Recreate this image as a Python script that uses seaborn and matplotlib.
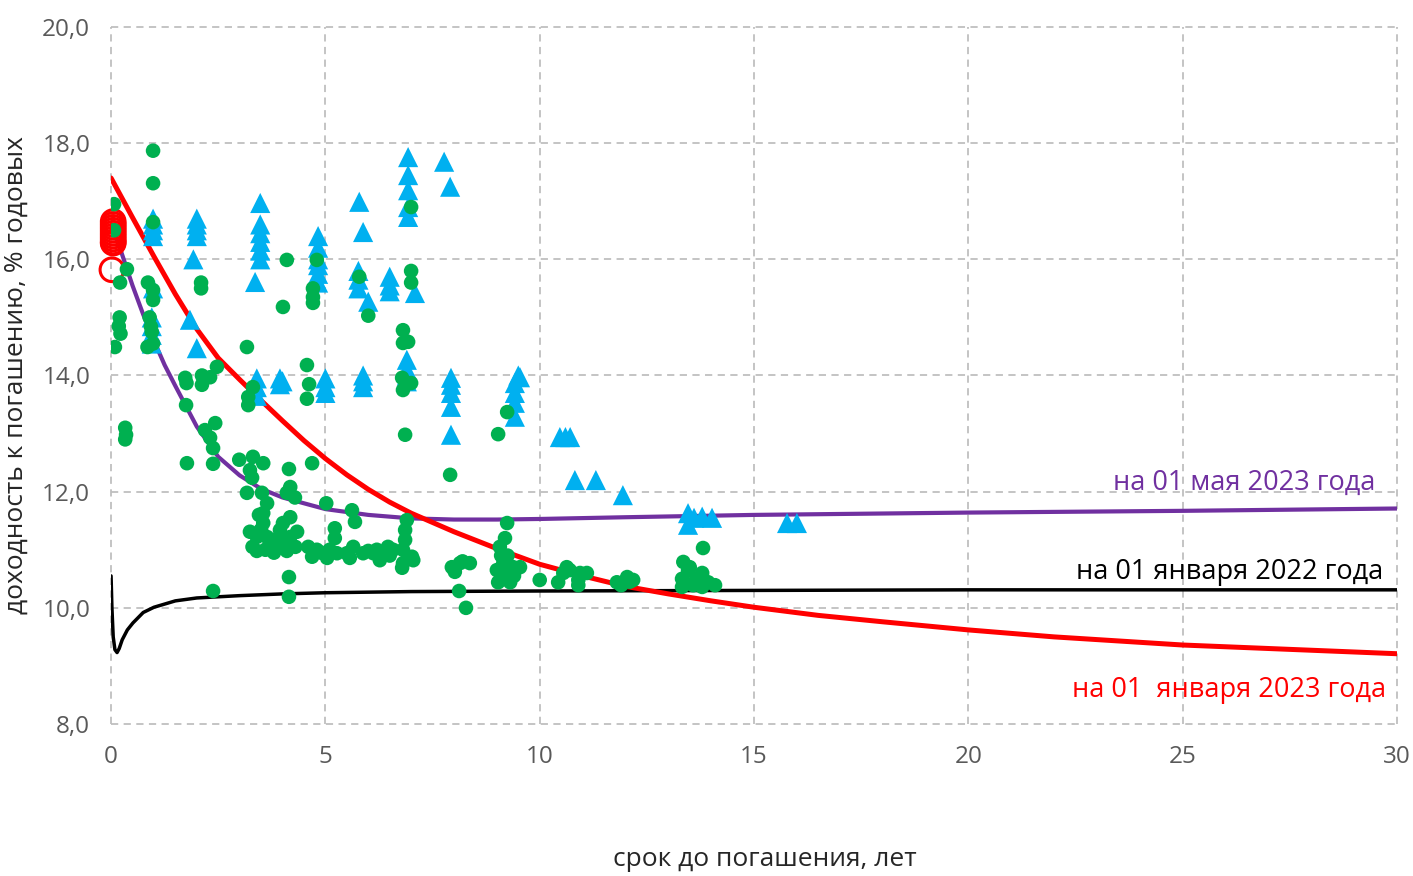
import numpy as np
import pandas as pd
import seaborn as sns
import matplotlib.pyplot as plt

sns.set_style("white")
plt.rcParams['font.family'] = ['Open Sans', 'DejaVu Sans']

# G-curves (maturity, yield)
red_x = [0, 0.5, 1, 1.5, 2, 2.5, 3, 3.5, 4, 4.5, 5, 5.5, 6, 6.5, 7, 8, 9, 10, 11, 12, 13, 14, 15, 16.5, 18, 20, 22, 25, 28, 30]
red_y = [17.40, 16.72, 16.05, 15.40, 14.80, 14.30, 13.93, 13.57, 13.22, 12.88, 12.57, 12.29, 12.04, 11.82, 11.63,
         11.31, 11.02, 10.75, 10.55, 10.37, 10.24, 10.12, 10.01, 9.87, 9.76, 9.62, 9.50, 9.36, 9.27, 9.21]

purple_x = [0, 0.25, 0.5, 0.75, 1, 1.25, 1.5, 2, 2.5, 3, 3.5, 4, 5, 6, 7, 8, 9, 10, 12, 15, 20, 25, 30]
purple_y = [16.6, 16.1, 15.55, 15.05, 14.6, 14.18, 13.82, 13.12, 12.6, 12.28, 12.05, 11.9, 11.7, 11.6, 11.54,
            11.52, 11.52, 11.53, 11.56, 11.6, 11.64, 11.67, 11.71]

black_x = [0, 0.02, 0.05, 0.09, 0.14, 0.19, 0.26, 0.38, 0.51, 0.75, 1, 1.5, 2, 3, 4, 5, 7, 10, 15, 20, 25, 30]
black_y = [10.55, 10.0, 9.5, 9.28, 9.23, 9.3, 9.45, 9.62, 9.74, 9.92, 10.01, 10.12, 10.17, 10.21, 10.24, 10.26,
           10.28, 10.29, 10.30, 10.31, 10.31, 10.31]

# green dots
green_x = [0.07, 0.07, 0.37, 0.21, 0.2, 0.18, 0.22, 0.09, 0.33, 0.35, 0.33,
           0.98, 0.98, 0.98, 0.86, 0.98, 0.98, 0.9, 0.93, 0.95, 0.98, 0.85,
           1.73, 1.76, 1.75, 2.12, 2.12, 2.31, 2.47, 2.1, 2.1, 1.77, 2.43, 2.19, 2.31, 2.38, 2.38, 2.38,
           3.17, 2.99, 3.31, 3.2, 3.2, 3.31, 3.55, 3.24, 3.29, 3.17, 3.52, 3.64, 3.55, 3.55, 3.24, 3.4,
           3.64, 3.4, 3.87, 4.1, 4.01, 4.18, 4.18, 4.29, 4.1, 4.34, 4.18, 3.94, 4.15, 4.15, 4.15, 4.1, 4.01,
           3.5, 3.7, 3.3, 3.8, 4.0, 4.3, 3.6, 3.45, 3.9,
           4.69, 4.57, 4.62, 4.57, 4.8, 4.71, 4.71, 4.71, 5.02, 5.22, 5.22, 4.6, 4.69, 5.04, 5.27, 5.5,
           4.8, 4.9, 5.1, 5.62, 5.69, 5.65, 5.57, 5.79,
           5.88, 6.12, 6.27, 6.46, 6.58, 6.5, 6.0, 6.9, 6.86, 6.86, 6.81, 7.02, 6.81, 6.79, 7.05, 6.86,
           6.81, 6.93, 6.81, 6.79, 7.0, 6.81, 7.0, 7.0, 7.0, 6.2, 6.35, 6.0,
           7.91, 8.02, 8.14, 8.37, 8.12, 8.28, 7.95, 8.2,
           9.03, 9.24, 9.24, 9.19, 9.07, 9.0, 9.15, 9.38, 9.54, 9.03, 9.31, 9.15, 9.25, 9.4, 9.1, 10.0,
           10.63, 10.55, 10.43, 10.94, 11.1, 10.9, 10.9, 10.7,
           11.8, 12.04, 12.18, 11.9, 12.1,
           13.81, 13.35, 13.46, 13.32, 13.32, 13.79, 13.93, 14.09, 13.79, 13.58, 13.5, 13.65]
green_y = [16.95, 16.5, 15.83, 15.6, 15.0, 14.85, 14.72, 14.49, 13.1, 12.98, 12.9,
           17.87, 17.31, 16.64, 15.6, 15.47, 15.3, 15.0, 14.84, 14.75, 14.55, 14.49,
           13.96, 13.87, 13.49, 14.0, 13.84, 13.97, 14.15, 15.6, 15.5, 12.49, 13.18, 13.06, 12.93, 12.75, 12.48, 10.29,
           14.49, 12.55, 13.8, 13.63, 13.49, 12.6, 12.49, 12.37, 12.24, 11.98, 11.98, 11.8, 11.63, 11.46, 11.31, 11.22,
           11.22, 10.98, 11.03, 10.98, 11.46, 11.56, 12.08, 11.9, 11.98, 11.31, 11.22, 11.34, 12.39, 10.53, 10.19, 15.99, 15.18,
           11.35, 11.1, 11.05, 10.95, 11.1, 11.05, 11.0, 11.6, 11.2,
           12.49, 14.18, 13.85, 13.6, 15.99, 15.5, 15.35, 15.25, 11.8, 11.37, 11.2, 11.05, 10.88, 10.86, 10.94, 10.94,
           11.0, 10.95, 11.0, 11.68, 11.48, 11.05, 10.86, 15.70,
           10.94, 10.94, 10.82, 11.05, 11.0, 10.9, 15.03, 11.51, 11.34, 11.17, 11.0, 10.88, 10.77, 10.69, 10.82, 12.98,
           14.78, 14.58, 14.56, 13.96, 13.87, 13.75, 16.9, 15.8, 15.6, 11.0, 10.95, 10.98,
           12.29, 10.62, 10.77, 10.77, 10.29, 10.0, 10.7, 10.8,
           12.99, 13.37, 11.46, 11.2, 11.05, 10.65, 10.77, 10.7, 10.7, 10.44, 10.44, 10.57, 10.9, 10.55, 10.9, 10.48,
           10.7, 10.6, 10.44, 10.6, 10.6, 10.39, 10.48, 10.65,
           10.44, 10.53, 10.48, 10.39, 10.45,
           11.03, 10.79, 10.65, 10.5, 10.36, 10.6, 10.44, 10.39, 10.36, 10.39, 10.7, 10.5]

# blue triangles
blue_x = [0.98, 0.98, 0.98, 0.98, 0.98, 0.95, 0.95, 0.95, 0.95,
          1.84, 2.0, 2.0, 2.0, 2.0, 2.0, 1.92,
          3.48, 3.48, 3.48, 3.48, 3.48, 3.48, 3.36, 3.4, 3.4, 3.4,
          3.94, 3.94, 4.0,
          4.83, 4.83, 4.83, 4.83, 4.83, 4.83, 5.0, 5.0, 5.0,
          5.79, 5.88, 5.77, 5.77, 5.77, 6.0, 5.88, 5.88, 5.88,
          6.5, 6.5, 6.5,
          6.93, 6.93, 6.93, 6.93, 6.93, 7.09, 6.9, 6.9, 6.9, 6.9,
          7.77, 7.91, 7.93, 7.93, 7.93, 7.93, 7.93,
          9.54, 9.42, 9.42, 9.42, 9.42, 9.5,
          10.47, 10.6, 10.71,
          10.82, 11.31, 11.94,
          13.46, 13.46, 13.79, 14.02, 13.6,
          15.77, 16.0]
blue_y = [16.7, 16.6, 16.5, 16.4, 15.5, 15.0, 14.85, 14.7, 14.55,
          14.96, 14.47, 16.7, 16.6, 16.5, 16.4, 16.0,
          16.97, 16.6, 16.45, 16.3, 16.15, 16.0, 15.61, 13.95, 13.8, 13.65,
          13.95, 13.85, 13.9,
          16.4, 16.2, 16.0, 15.9, 15.75, 15.6, 13.95, 13.8, 13.7,
          16.99, 16.47, 15.8, 15.65, 15.5, 15.27, 14.0, 13.9, 13.8,
          15.7, 15.55, 15.45,
          17.76, 17.45, 17.19, 16.90, 16.73, 15.42, 14.27, 14.1, 14.0, 13.9,
          17.68, 17.25, 13.96, 13.84, 13.70, 13.46, 12.98,
          13.97, 13.87, 13.70, 13.53, 13.29, 14.0,
          12.94, 12.94, 12.94,
          12.2, 12.2, 11.94,
          11.63, 11.43, 11.57, 11.55, 11.55,
          11.46, 11.46]

# red open circles (short end)
ring_x = [0.05, 0.05, 0.05, 0.05, 0.05, 0.05, 0.05, 0.05, 0.05, 0.02]
ring_y = [16.65, 16.6, 16.55, 16.5, 16.45, 16.4, 16.35, 16.3, 16.28, 15.82]

x_ticks = [0, 5, 10, 15, 20, 25, 30]
y_ticks = [8, 10, 12, 14, 16, 18, 20]
y_labels = ['8,0', '10,0', '12,0', '14,0', '16,0', '18,0', '20,0']

fig = plt.figure(figsize=(14.13, 8.76), dpi=100)
ax = fig.add_axes([0.0786, 0.1735, 0.9101, 0.7957])

sns.lineplot(x=black_x, y=black_y, color='black', linewidth=2.5, sort=False, estimator=None, ax=ax, zorder=2)
sns.lineplot(x=purple_x, y=purple_y, color='#7030A0', linewidth=3, sort=False, estimator=None, ax=ax, zorder=2)
sns.lineplot(x=red_x, y=red_y, color='#FF0000', linewidth=3.6, sort=False, estimator=None, ax=ax, zorder=2)

sns.scatterplot(x=blue_x, y=blue_y, marker='^', s=210, color='#00B0F0', edgecolor='none', ax=ax, zorder=3)
sns.scatterplot(x=ring_x, y=ring_y, marker='o', s=290, color='#FF0000', ax=ax, zorder=4)
rings = ax.collections[-1]
rings.set_facecolor('none')
rings.set_edgecolor('#FF0000')
rings.set_linewidth(2.2)
rings.set_clip_on(False)
sns.scatterplot(x=green_x, y=green_y, marker='o', s=110, color='#00B050', edgecolor='none', ax=ax, zorder=5)

ax.set_xlim(0, 30)
ax.set_ylim(8, 20)
ax.set_xticks(x_ticks)
ax.set_yticks(y_ticks)
ax.set_yticklabels(y_labels)
ax.tick_params(axis='both', length=0, labelsize=17.5, labelcolor='#595959', pad=15)
for s in ax.spines.values():
    s.set_visible(False)
ax.grid(True, color='#BFBFBF', linestyle=(0, (4, 3)), linewidth=1.3)
for gl in ax.get_xgridlines() + ax.get_ygridlines():
    gl.set_clip_on(False)
ax.set_axisbelow(True)

ax.set_ylabel('доходность к погашению, % годовых', fontsize=19, labelpad=10)
fig.text(765 / 1413, 1 - 860 / 876, 'срок до погашения, лет', fontsize=19, ha='center', va='center')

ax.text(29.49, 12.15, 'на 01 мая 2023 года', color='#7030A0', fontsize=19.5, ha='right', va='center')
ax.text(29.67, 10.62, 'на 01 января 2022 года', color='black', fontsize=19.5, ha='right', va='center')
ax.text(29.74, 8.59, 'на 01  января 2023 года', color='#FF0000', fontsize=19.5, ha='right', va='center')

fig.savefig('out.png', dpi=100)
